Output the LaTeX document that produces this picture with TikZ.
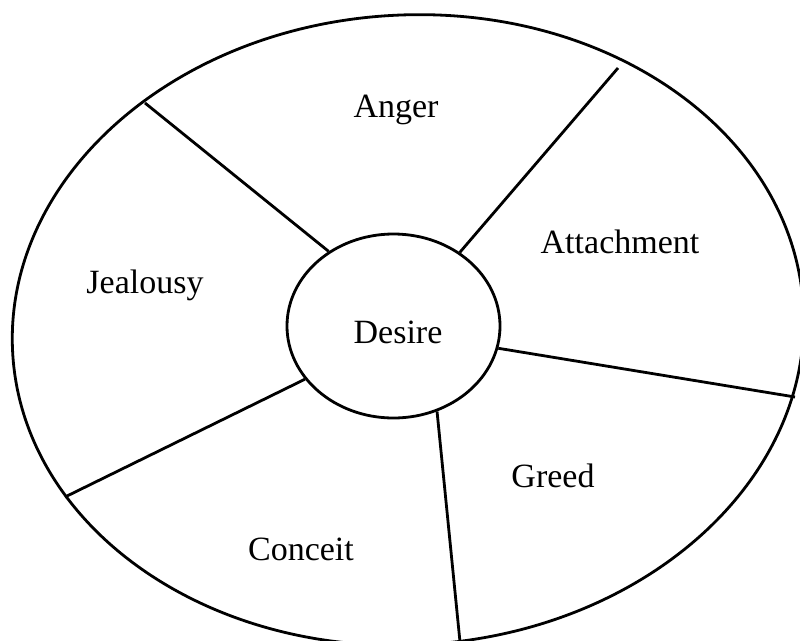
\documentclass[tikz,border=0pt]{standalone}
\usepackage{fontspec}
\setmainfont{Liberation Serif}
\usetikzlibrary{shapes.geometric}
\tikzset{
  ring/.style={line width=2.8pt},
  spoke/.style={line width=2.8pt},
  lbl/.style={font=\fontsize{34}{40}\selectfont, anchor=base, inner sep=0pt},
  hubnode/.style={draw, ellipse, line width=2.8pt, minimum width=213pt, minimum height=184pt, inner sep=0pt, font=\fontsize{34}{40}\selectfont}
}
\begin{document}
\begin{tikzpicture}[x=1pt,y=1pt]
\useasboundingbox (0,-640) rectangle (800,0);
\draw[ring, rotate around={3.5:(408,-330)}] (408,-330) ellipse [x radius=396pt, y radius=315pt];
\node[hubnode] (hub) at (393.5,-326) {};
\node[lbl] (desire) at (398,-343) {Desire};
% outer ends of spokes
\coordinate (o1) at (145,-103);
\coordinate (o2) at (618,-68);
\coordinate (o3) at (795,-397);
\coordinate (o4) at (460,-642);
\coordinate (o5) at (65,-497);
\draw[spoke] (hub.131.4) -- (o1);
\draw[spoke] (hub.48) -- (o2);
\draw[spoke] (hub.-12) -- (o3);
\draw[spoke] (hub.-63.2) -- (o4);
\draw[spoke] (hub.211.4) -- (o5);
\node[lbl] (anger) at (396,-117) {Anger};
\node[lbl] (attach) at (620,-253) {Attachment};
\node[lbl] (jeal) at (145,-293) {Jealousy};
\node[lbl] (greed) at (553,-487) {Greed};
\node[lbl] (conceit) at (301,-560) {Conceit};
\end{tikzpicture}
\end{document}
